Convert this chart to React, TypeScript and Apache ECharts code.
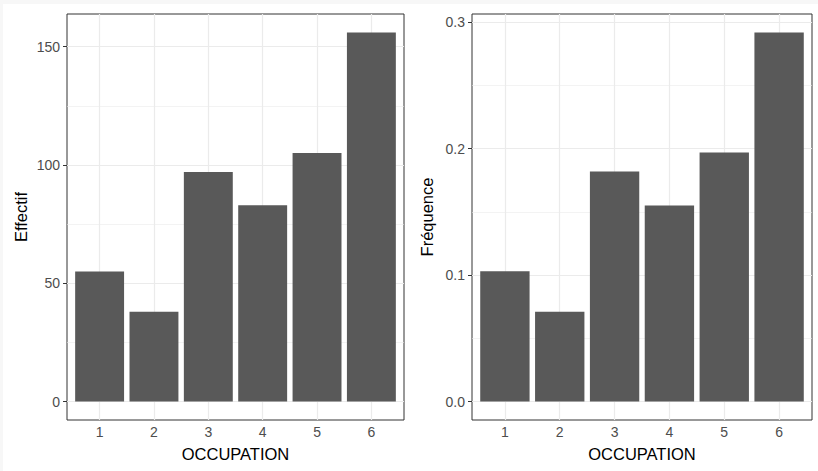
import React, { useEffect, useRef } from "react";
import * as echarts from "echarts";

const occupations = [1, 2, 3, 4, 5, 6];
const effectifs = [55, 38, 97, 83, 105, 156];
const frequences = [0.103, 0.071, 0.182, 0.155, 0.197, 0.292];
const effTicks = [0, 50, 100, 150];
const effMinor = [25, 75, 125];
const freqTicks = [0, 0.1, 0.2, 0.3];
const freqMinor = [0.05, 0.15, 0.25];

const FONT = "'Liberation Sans', Arial, Helvetica, sans-serif";
const GRID_COLOR = "#ebebeb";

function yAxisFor(gridIndex: number, name: string, values: number[], ticks: number[], fmt: (v: number) => string, nameGap: number) {
  const mx = Math.max(...values);
  const pad = mx * 0.05;
  return {
    type: "value",
    gridIndex,
    min: -pad,
    max: mx + pad,
    name,
    nameLocation: "middle",
    nameGap,
    nameTextStyle: { color: "#000", fontSize: 16.5, fontFamily: FONT },
    axisLine: { show: false },
    splitLine: { show: false },
    axisTick: { show: true, customValues: ticks, length: 4, lineStyle: { color: "#333333", width: 1 } },
    axisLabel: { customValues: ticks, formatter: fmt, color: "#4d4d4d", fontSize: 14, fontFamily: FONT, margin: 7 },
  };
}

function xAxisFor(gridIndex: number) {
  return {
    type: "value",
    gridIndex,
    min: 0.4,
    max: 6.6,
    name: "OCCUPATION",
    nameLocation: "middle",
    nameGap: 25,
    nameTextStyle: { color: "#000", fontSize: 16.5, fontFamily: FONT },
    axisLine: { show: false },
    splitLine: { show: false },
    axisTick: { show: true, customValues: occupations, length: 4, lineStyle: { color: "#333333", width: 1 } },
    axisLabel: { customValues: occupations, color: "#4d4d4d", fontSize: 14, fontFamily: FONT, margin: 5 },
  };
}

function gridLines(index: number, major: number[], minor: number[]) {
  return {
    type: "line",
    xAxisIndex: index,
    yAxisIndex: index,
    data: [],
    z: 1,
    silent: true,
    markLine: {
      z: 1,
      silent: true,
      symbol: "none",
      label: { show: false },
      emphasis: { disabled: true },
      lineStyle: { color: GRID_COLOR, type: "solid", width: 1 },
      data: [
        ...major.map((v) => ({ yAxis: v, lineStyle: { color: GRID_COLOR, width: 1.2, type: "solid" } })),
        ...minor.map((v) => ({ yAxis: v, lineStyle: { color: GRID_COLOR, width: 0.6, type: "solid" } })),
        ...occupations.map((v) => ({ xAxis: v, lineStyle: { color: GRID_COLOR, width: 1.2, type: "solid" } })),
      ],
    },
  };
}

function barSeries(index: number, values: number[]) {
  return {
    type: "bar",
    xAxisIndex: index,
    yAxisIndex: index,
    z: 5,
    barWidth: "90%",
    itemStyle: { color: "#595959" },
    data: occupations.map((o, i) => [o, values[i]]),
  };
}

export default function App() {
  const ref = useRef<HTMLDivElement>(null);
  useEffect(() => {
    if (!ref.current) return;
    const chart = echarts.init(ref.current, undefined, { renderer: "svg" });
    chart.setOption({
      animation: false,
      backgroundColor: "#ffffff",
      textStyle: { fontFamily: FONT },
      graphic: [
        { type: "rect", left: 0, top: 0, shape: { width: 818, height: 4 }, style: { fill: "#f7f7f7" }, silent: true },
        { type: "rect", left: 0, top: 0, shape: { width: 3, height: 471 }, style: { fill: "#f7f7f7" }, silent: true },
      ],
      grid: [
        { left: 67, top: 14, width: 337, height: 406, show: true, borderColor: "#333333", borderWidth: 1, backgroundColor: "transparent" },
        { left: 472, top: 14, width: 340, height: 406, show: true, borderColor: "#333333", borderWidth: 1, backgroundColor: "transparent" },
      ],
      xAxis: [xAxisFor(0), xAxisFor(1)],
      yAxis: [
        yAxisFor(0, "Effectif", effectifs, effTicks, (v: number) => String(v), 38),
        yAxisFor(1, "Fréquence", frequences, freqTicks, (v: number) => v.toFixed(1), 37),
      ],
      series: [
        gridLines(0, effTicks, effMinor),
        gridLines(1, freqTicks, freqMinor),
        barSeries(0, effectifs),
        barSeries(1, frequences),
      ],
    });
    return () => chart.dispose();
  }, []);
  return <div ref={ref} style={{ position: "absolute", left: 0, top: 0, width: 818, height: 471 }} />;
}
